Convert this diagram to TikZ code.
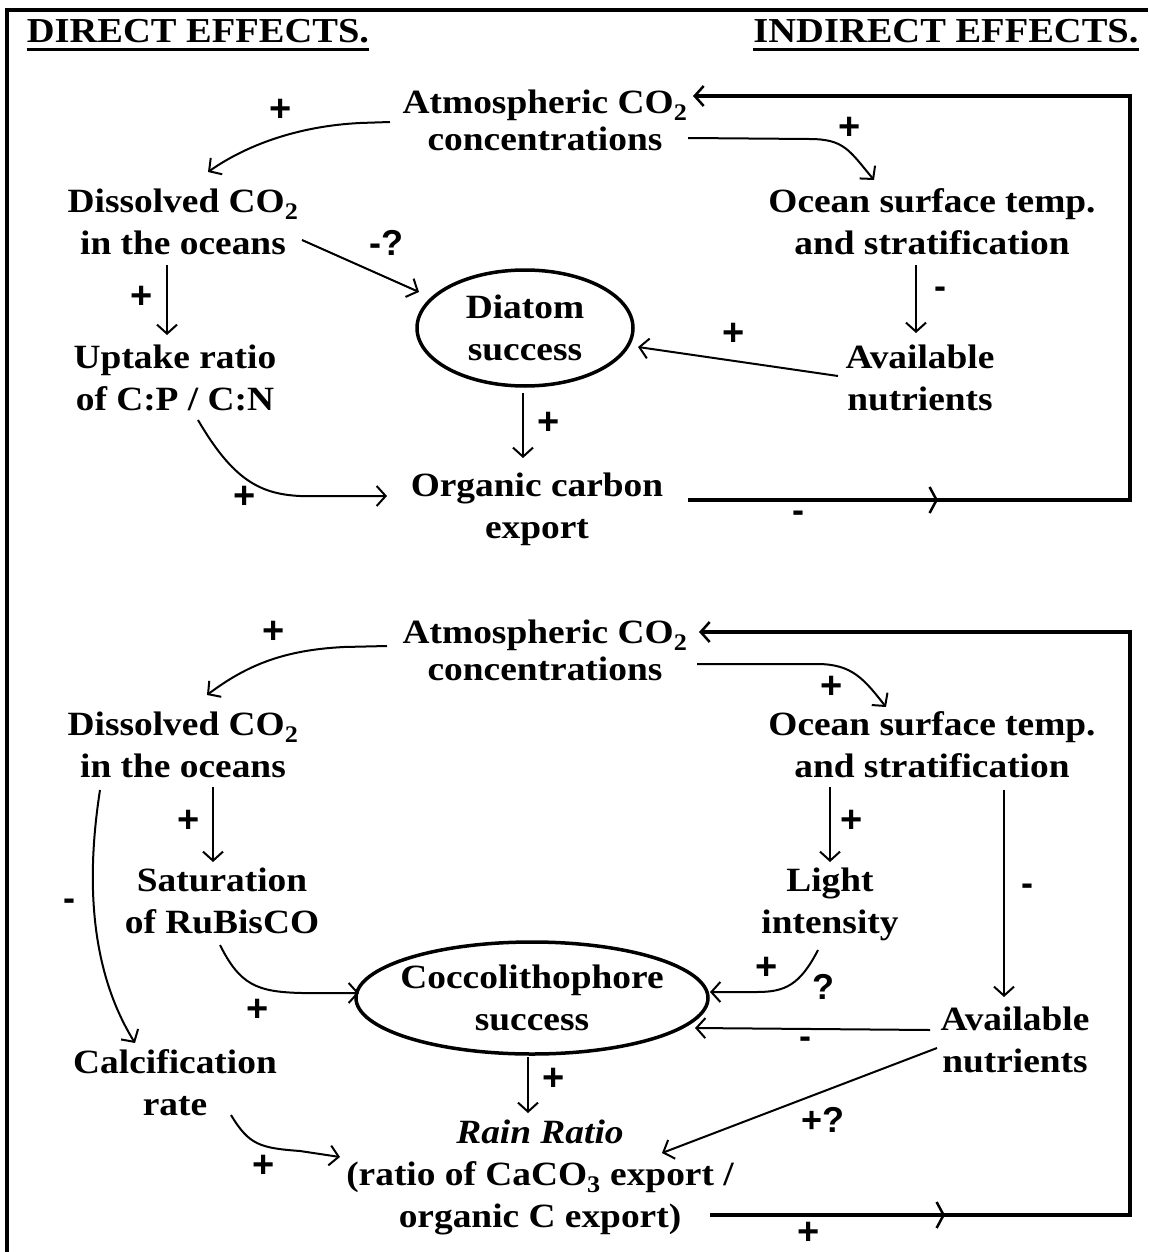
\documentclass[tikz,border=0pt]{standalone}
\usepackage{fontspec}
\setmainfont{Liberation Serif}[FakeStretch=1.1]
\newfontfamily\signfont{Liberation Sans}
\usetikzlibrary{arrows.meta,decorations.markings,calc,shapes.geometric}

\tikzset{
  box/.style={font=\fontsize{34}{42}\selectfont\bfseries, align=center, inner sep=0pt},
  atmbox/.style={box, font=\fontsize{34}{37}\selectfont\bfseries},
  heading/.style={font=\fontsize{35}{38}\selectfont\bfseries, inner sep=0pt},
  sign/.style={font=\signfont\fontsize{36}{36}\selectfont\bfseries, inner sep=0pt},
  plus/.style={font=\signfont\fontsize{38}{38}\selectfont\bfseries, inner sep=0pt},
  rim/.style={line width=3.5pt},
  link/.style={line width=2pt, -{Straight Barb[length=9pt,width=20pt]}},
  loopline/.style={line width=3.5pt, -{Straight Barb[length=9pt,width=20pt,line width=2.5pt]},
    decoration={markings, mark=at position #1 with {\arrow[line width=2.5pt]{Straight Barb[length=7pt,width=26pt]}}},
    postaction={decorate}},
}

\begin{document}
\begin{tikzpicture}[x=1pt,y=-1pt]
\useasboundingbox (0,0) rectangle (1148,1252);
\fill[white] (0,0) rectangle (1148,1252);
\draw[line width=3.5pt] (7,1252) -- (7,10) -- (1148,10);

% headings
\node[heading] (dirT) at (198,31) {DIRECT EFFECTS.};
\node[heading] (indT) at (946,31) {INDIRECT EFFECTS.};
\draw[line width=3pt] ([yshift=-7pt]dirT.base west) -- ([yshift=-7pt]dirT.base east);
\draw[line width=3pt] ([yshift=-7pt]indT.base west) -- ([yshift=-7pt]indT.base east);

% ---------- diatoms ----------
\node[atmbox] (atmA) at (545,120) {Atmospheric CO\textsubscript{2}\\concentrations};
\node[box] (dissA) at (183,222) {Dissolved CO\textsubscript{2}\\in the oceans};
\node[box] (oceanA) at (932,222) {Ocean surface temp.\\and stratification};
\node[box] (uptake) at (175,378) {Uptake ratio\\of C:P / C:N};
\node[box] (availA) at (920,378) {Available\\nutrients};
\node[box] (diatom) at (525,328) {Diatom\\success};
\draw[rim] (diatom) ellipse [x radius=108pt, y radius=58pt];
\node[box] (organic) at (537,509) {Organic carbon\\export};

\draw[link] ($(atmA)+(-155,2)$) -- ++(-30,1) .. controls +(-60,3) and +(40,-28) .. ($(dissA)+(25,-50)$);
\draw[link] ($(atmA)+(143,18)$) -- ++(121,1) .. controls +(35,0) and +(-25,-30) .. ($(oceanA)+(-58,-42)$);
\draw[link] ($(dissA)+(119,18)$) -- ($(diatom)+(-106,-36)$);
\draw[link] ($(dissA)+(-16,43)$) -- ($(uptake)+(-8,-43)$);
\draw[link] ($(uptake)+(23,42)$) .. controls +(35,60) and +(-40,-2) .. ($(organic)+(-237,-13)$) -- ($(organic)+(-150,-13)$);
\draw[link] ($(diatom)+(-2,65)$) -- ($(organic)+(-14,-51)$);
\draw[link] ($(oceanA)+(-16,43)$) -- ($(availA)+(-4,-45)$);
\draw[link] ($(availA)+(-82,-2)$) -- ($(diatom)+(113,19)$);
\draw[loopline=250pt] ($(organic)+(151,-9)$) -- ++(442,0) |- ($(atmA)+(148,-24)$);

\node[plus] (a1) at (281,110) {+};
\node[plus] (a2) at (850,128) {+};
\node[sign] (a3) at (386,243) {-?};
\node[plus] (a4) at (142,297) {+};
\node[plus] (a5) at (245,497) {+};
\node[plus] (a6) at (549,423) {+};
\node[sign] (a7) at (798,517) {-};
\node[sign] (a8) at (940,293) {-};
\node[plus] (a9) at (734,334) {+};

% ---------- coccolithophores ----------
\node[atmbox] (atmB) at (545,650) {Atmospheric CO\textsubscript{2}\\concentrations};
\node[box] (dissB) at (183,745) {Dissolved CO\textsubscript{2}\\in the oceans};
\node[box] (oceanB) at (932,745) {Ocean surface temp.\\and stratification};
\node[box] (satur) at (222,901) {Saturation\\of RuBisCO};
\node[box] (light) at (830,904) {Light\\intensity};
\node[box] (calc) at (175,1083) {Calcification\\rate};
\node[box] (cocco) at (532,998) {Coccolithophore\\success};
\draw[rim] (cocco) ellipse [x radius=176pt, y radius=56pt];
\node[box] (availB) at (1015,1040) {Available\\nutrients};
\node[box] (rain) at (540,1177) {\textit{Rain Ratio}\\(ratio of CaCO\textsubscript{3} export /\\organic C export)};

\draw[link] ($(atmB)+(-158,-4)$) -- ++(-43,1) .. controls +(-60,3) and +(40,-30) .. ($(dissB)+(24,-50)$);
\draw[link] ($(atmB)+(152,14)$) -- ++(120,0) .. controls +(35,0) and +(-22,-28) .. ($(oceanB)+(-46,-38)$);
\draw[link] ($(dissB)+(30,42)$) -- ($(satur)+(-9,-39)$);
\draw[link] ($(dissB)+(-83,45)$) .. controls +(-14,90) and +(-45,-73) .. ($(calc)+(-40,-40)$);
\draw[link] ($(satur)+(-2,44)$) .. controls +(20,40) and +(-45,-1) .. ($(cocco)+(-230,-5)$) -- ($(cocco)+(-173,-5)$);
\draw[link] ($(oceanB)+(-102,42)$) -- ($(light)+(0,-42)$);
\draw[link] ($(oceanB)+(72,45)$) -- ($(availB)+(-11,-43)$);
\draw[link] ($(light)+(-12,46)$) .. controls +(-18,35) and +(28,0) .. ($(cocco)+(225,-6)$) -- ($(cocco)+(178,-6)$);
\draw[link] ($(availB)+(-85,-10)$) -- ($(cocco)+(163,30)$);
\draw[link] ($(availB)+(-78,8)$) -- ($(rain)+(122,-24)$);
\draw[link] ($(cocco)+(-4,59)$) -- ($(rain)+(-12,-64)$);
\draw[link] ($(calc)+(56,32)$) .. controls +(18,30) and +(-40,-3) .. ($(rain)+(-240,-26)$) -- ($(rain)+(-200,-20)$);
\draw[loopline=235pt] ($(rain)+(170,38)$) -- ++(420,0) |- ($(atmB)+(154,-18)$);

\node[plus] (b1) at (274,632) {+};
\node[plus] (b2) at (832,687) {+};
\node[plus] (b3) at (189,821) {+};
\node[plus] (b4) at (852,821) {+};
\node[sign] (b5) at (1027,890) {-};
\node[sign] (b6) at (69,905) {-};
\node[plus] (b7) at (258,1010) {+};
\node[plus] (b8) at (767,968) {+};
\node[sign] (b9) at (823,987) {?};
\node[sign] (b10) at (805,1043) {-};
\node[sign] (b11) at (823,1120) {+?};
\node[plus] (b12) at (554,1079) {+};
\node[plus] (b13) at (264,1166) {+};
\node[plus] (b14) at (809,1233) {+};
\end{tikzpicture}
\end{document}
